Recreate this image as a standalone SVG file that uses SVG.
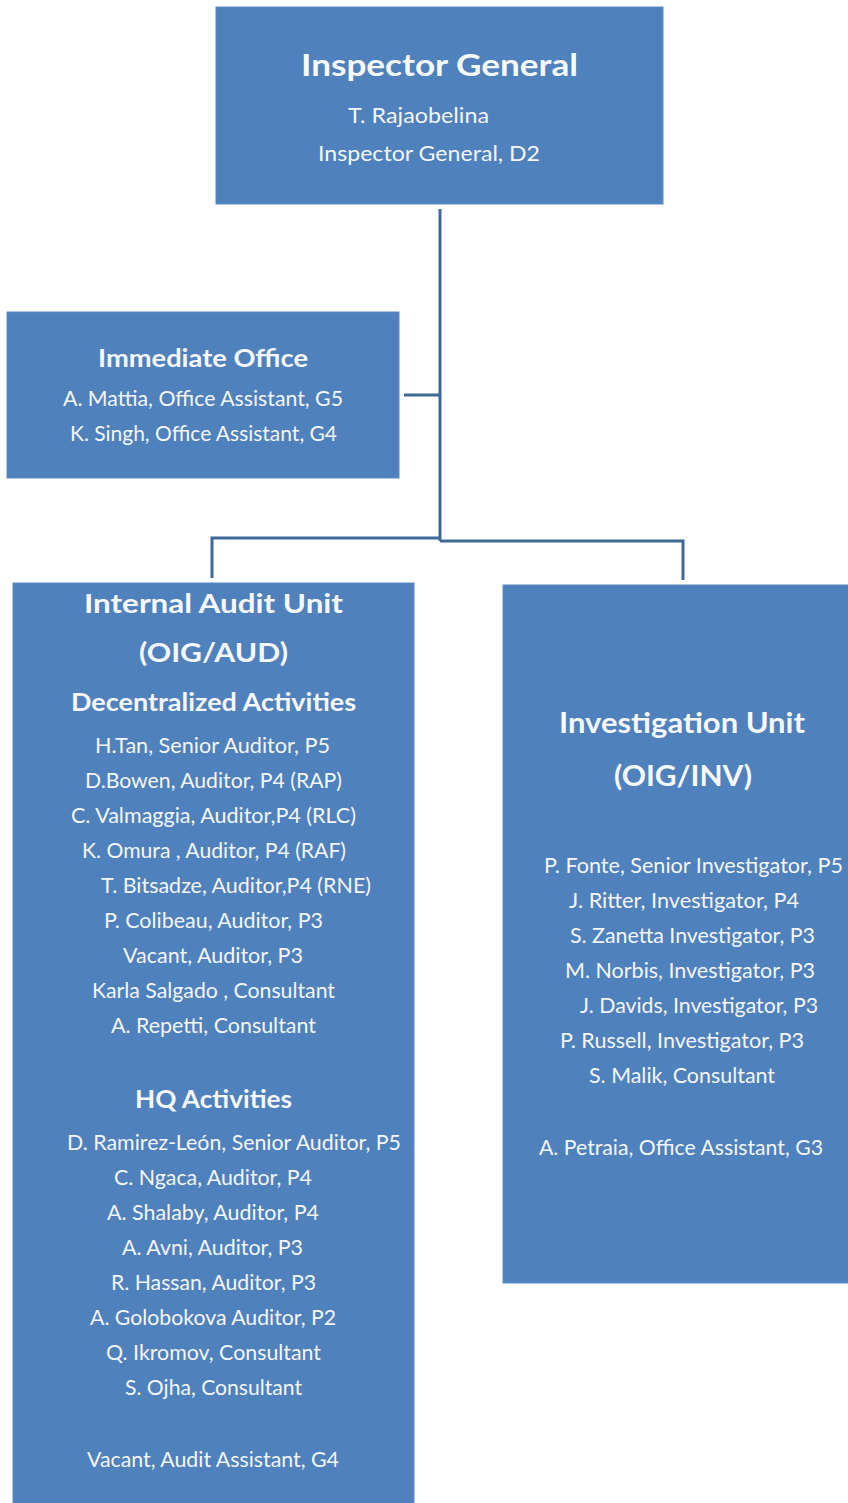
<svg xmlns="http://www.w3.org/2000/svg" width="848" height="1503" viewBox="0 0 848 1503">
<style>
.box{fill:#4F81BD;stroke:#5A8AC2;stroke-width:1}
.t{font-family:Lato,"Liberation Sans",sans-serif;fill:#F4F6F9;font-size:21px}
.h{font-family:Lato,"Liberation Sans",sans-serif;fill:#F7F8FA;font-weight:bold}
.c{stroke:#3F6999;stroke-width:3;fill:none}
</style>
<rect width="848" height="1503" fill="#FFFFFF"/>
<g id="connectors">
<path class="c" d="M440 209 V541"/>
<path class="c" d="M404 395 H440"/>
<path class="c" d="M212 578 V538 H440"/>
<path class="c" d="M440 541 H683 V580"/>
</g>
<g id="inspector-general">
<rect class="box" x="216" y="7" width="447" height="197"/>
<text class="h" x="301" y="76" font-size="31" textLength="277" lengthAdjust="spacingAndGlyphs">Inspector General</text>
<text class="t" x="348" y="123" font-size="22" textLength="141" lengthAdjust="spacingAndGlyphs">T. Rajaobelina</text>
<text class="t" x="318" y="161" font-size="22" textLength="222" lengthAdjust="spacingAndGlyphs">Inspector General, D2</text>
</g>
<g id="immediate-office">
<rect class="box" x="7" y="312" width="392" height="166"/>
<text class="h" x="98" y="367" font-size="25" textLength="210" lengthAdjust="spacingAndGlyphs">Immediate Office</text>
<text class="t" x="63" y="406" textLength="280" lengthAdjust="spacingAndGlyphs">A. Mattia, Office Assistant, G5</text>
<text class="t" x="70" y="441" textLength="267" lengthAdjust="spacingAndGlyphs">K. Singh, Office Assistant, G4</text>
</g>
<g id="internal-audit">
<rect class="box" x="13" y="583" width="401" height="925"/>
<text class="h" x="84" y="613" font-size="27" textLength="259" lengthAdjust="spacingAndGlyphs">Internal Audit Unit</text>
<text class="h" x="139" y="662" font-size="27" textLength="149" lengthAdjust="spacingAndGlyphs">(OIG/AUD)</text>
<text class="h" x="71" y="711" font-size="24" textLength="285" lengthAdjust="spacingAndGlyphs">Decentralized Activities</text>
<text class="t" x="95" y="753" textLength="235" lengthAdjust="spacingAndGlyphs">H.Tan, Senior Auditor, P5</text>
<text class="t" x="85" y="788" textLength="257" lengthAdjust="spacingAndGlyphs">D.Bowen, Auditor, P4 (RAP)</text>
<text class="t" x="71" y="823" textLength="285" lengthAdjust="spacingAndGlyphs">C. Valmaggia, Auditor,P4 (RLC)</text>
<text class="t" x="82" y="858" textLength="264" lengthAdjust="spacingAndGlyphs">K. Omura , Auditor, P4 (RAF)</text>
<text class="t" x="101" y="893" textLength="270" lengthAdjust="spacingAndGlyphs">T. Bitsadze, Auditor,P4 (RNE)</text>
<text class="t" x="104" y="928" textLength="219" lengthAdjust="spacingAndGlyphs">P. Colibeau, Auditor, P3</text>
<text class="t" x="123" y="963" textLength="180" lengthAdjust="spacingAndGlyphs">Vacant, Auditor, P3</text>
<text class="t" x="92" y="998" textLength="243" lengthAdjust="spacingAndGlyphs">Karla Salgado , Consultant</text>
<text class="t" x="111" y="1033" textLength="205" lengthAdjust="spacingAndGlyphs">A. Repetti, Consultant</text>
<text class="h" x="135" y="1108" font-size="24" textLength="157" lengthAdjust="spacingAndGlyphs">HQ Activities</text>
<text class="t" x="67" y="1150" textLength="334" lengthAdjust="spacingAndGlyphs">D. Ramirez-León, Senior Auditor, P5</text>
<text class="t" x="114" y="1185" textLength="198" lengthAdjust="spacingAndGlyphs">C. Ngaca, Auditor, P4</text>
<text class="t" x="107" y="1220" textLength="212" lengthAdjust="spacingAndGlyphs">A. Shalaby, Auditor, P4</text>
<text class="t" x="122" y="1255" textLength="181" lengthAdjust="spacingAndGlyphs">A. Avni, Auditor, P3</text>
<text class="t" x="111" y="1290" textLength="205" lengthAdjust="spacingAndGlyphs">R. Hassan, Auditor, P3</text>
<text class="t" x="90" y="1325" textLength="246" lengthAdjust="spacingAndGlyphs">A. Golobokova Auditor, P2</text>
<text class="t" x="106" y="1360" textLength="215" lengthAdjust="spacingAndGlyphs">Q. Ikromov, Consultant</text>
<text class="t" x="125" y="1395" textLength="177" lengthAdjust="spacingAndGlyphs">S. Ojha, Consultant</text>
<text class="t" x="87" y="1467" textLength="252" lengthAdjust="spacingAndGlyphs">Vacant, Audit Assistant, G4</text>
</g>
<g id="investigation">
<rect class="box" x="503" y="585" width="350" height="698"/>
<text class="h" x="559" y="733" font-size="28" textLength="246" lengthAdjust="spacingAndGlyphs">Investigation Unit</text>
<text class="h" x="614" y="786" font-size="28" textLength="138" lengthAdjust="spacingAndGlyphs">(OIG/INV)</text>
<text class="t" x="544" y="873" textLength="299" lengthAdjust="spacingAndGlyphs">P. Fonte, Senior Investigator, P5</text>
<text class="t" x="569" y="908" textLength="230" lengthAdjust="spacingAndGlyphs">J. Ritter, Investigator, P4</text>
<text class="t" x="570" y="943" textLength="245" lengthAdjust="spacingAndGlyphs">S. Zanetta Investigator, P3</text>
<text class="t" x="565" y="978" textLength="250" lengthAdjust="spacingAndGlyphs">M. Norbis, Investigator, P3</text>
<text class="t" x="580" y="1013" textLength="238" lengthAdjust="spacingAndGlyphs">J. Davids, Investigator, P3</text>
<text class="t" x="560" y="1048" textLength="244" lengthAdjust="spacingAndGlyphs">P. Russell, Investigator, P3</text>
<text class="t" x="589" y="1083" textLength="186" lengthAdjust="spacingAndGlyphs">S. Malik, Consultant</text>
<text class="t" x="539" y="1155" textLength="284" lengthAdjust="spacingAndGlyphs">A. Petraia, Office Assistant, G3</text>
</g>
</svg>
